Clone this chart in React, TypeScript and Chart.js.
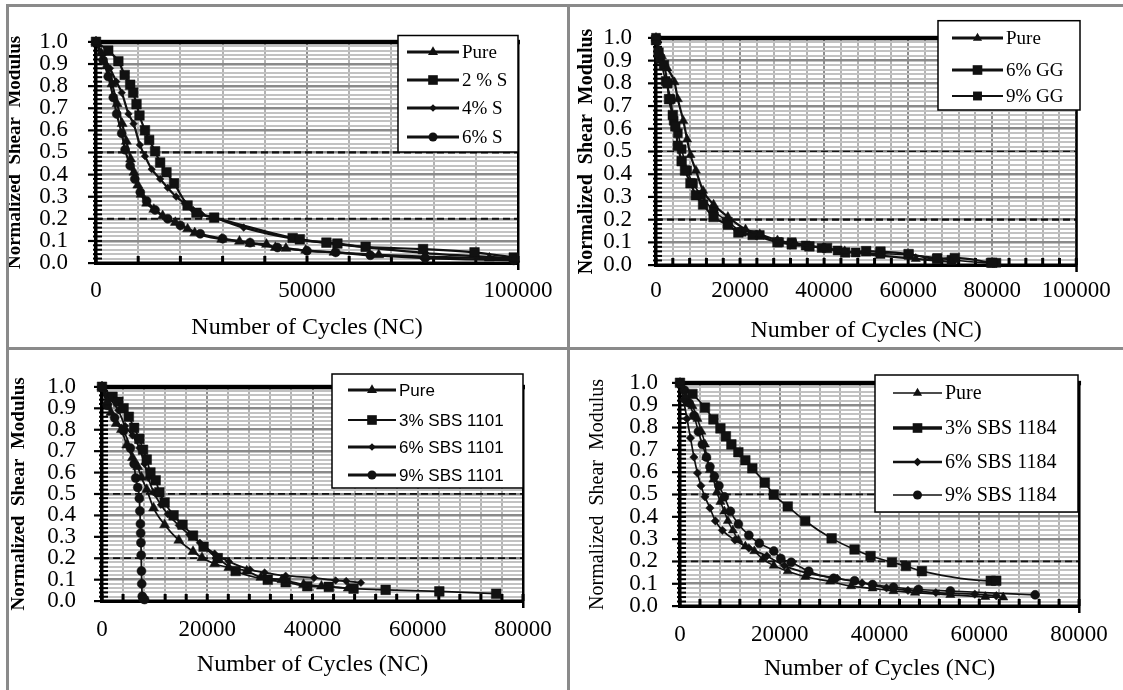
import React, { useEffect, useRef } from "react";
import { Chart, registerables } from "chart.js";

Chart.register(...registerables);

const SERIF = "'Liberation Serif', 'Times New Roman', serif";
const SANS = "'Liberation Sans', Arial, sans-serif";

// ---------------- tick labels / text ----------------
const Y_TICKS = [0, 0.1, 0.2, 0.3, 0.4, 0.5, 0.6, 0.7, 0.8, 0.9, 1.0];
const TL_X_TICKS = [0, 50000, 100000];
const TR_X_TICKS = [0, 20000, 40000, 60000, 80000, 100000];
const B_X_TICKS = [0, 20000, 40000, 60000, 80000];
const REF_LINES = [0.5, 0.2];
const X_TITLE = "Number of Cycles (NC)";
const Y_TITLE = "Normalized  Shear  Modulus";

const TL_LABELS = ["Pure", "2 % S", "4% S", "6% S"];
const TR_LABELS = ["Pure", "6% GG", "9% GG"];
const BL_LABELS = ["Pure", "3% SBS 1101", "6% SBS 1101", "9% SBS 1101"];
const BR_LABELS = ["Pure", "3% SBS 1184", "6% SBS 1184", "9% SBS 1184"];

// ---------------- top-left: sulfur ----------------
const tlPureX = [0, 1200, 2500, 3800, 5000, 6200, 7200, 8200, 9000, 9900, 10700, 12000, 13700, 15800, 18800, 21700, 23400, 29800, 34000, 36500, 40400, 42500, 45000, 49700, 56400, 67000, 78000, 93200, 99200];
const tlPureY = [1.0, 0.95, 0.89, 0.81, 0.72, 0.63, 0.55, 0.47, 0.41, 0.352, 0.31, 0.27, 0.242, 0.213, 0.183, 0.154, 0.136, 0.107, 0.098, 0.088, 0.084, 0.07, 0.066, 0.057, 0.048, 0.037, 0.029, 0.022, 0.019];
const tlS2X = [0, 2900, 5300, 6800, 8100, 8800, 9600, 10300, 11600, 12600, 14000, 15200, 16700, 18500, 21700, 23800, 28000, 46600, 48300, 54600, 57200, 63900, 77500, 89700, 99000];
const tlS2Y = [1.0, 0.96, 0.912, 0.85, 0.806, 0.77, 0.718, 0.667, 0.6, 0.556, 0.505, 0.454, 0.41, 0.36, 0.26, 0.227, 0.205, 0.113, 0.107, 0.092, 0.088, 0.073, 0.063, 0.048, 0.025];
const tlS4X = [0, 1500, 3300, 4800, 6100, 7700, 8900, 10400, 11600, 13200, 15200, 17000, 19000, 21000, 23000, 25000, 28000, 35000, 46700, 57000, 78000, 99000];
const tlS4Y = [1.0, 0.94, 0.88, 0.82, 0.77, 0.674, 0.63, 0.534, 0.483, 0.424, 0.38, 0.34, 0.3, 0.27, 0.24, 0.22, 0.205, 0.16, 0.11, 0.085, 0.045, 0.022];
const tlS6X = [0, 1700, 2900, 4100, 4900, 6100, 6900, 8100, 9200, 10500, 12000, 14000, 17000, 20000, 24700, 30000, 36500, 43000, 50000, 56800, 65000, 78000, 99000];
const tlS6Y = [1.0, 0.916, 0.843, 0.748, 0.674, 0.586, 0.512, 0.44, 0.38, 0.32, 0.28, 0.24, 0.2, 0.17, 0.132, 0.11, 0.092, 0.07, 0.055, 0.048, 0.035, 0.022, 0.012];

// ---------------- top-right: GG ----------------
const trPureX = [0, 1400, 2700, 4400, 5200, 6500, 7400, 8200, 9500, 11200, 13700, 17100, 21300, 24700, 28900, 33100, 39900, 44900, 53400, 61800, 70300];
const trPureY = [1.0, 0.92, 0.866, 0.805, 0.73, 0.635, 0.553, 0.484, 0.416, 0.327, 0.266, 0.212, 0.157, 0.136, 0.109, 0.094, 0.075, 0.061, 0.041, 0.027, 0.014];
const trG6X = [0, 600, 1900, 2700, 3100, 4000, 4600, 5200, 6100, 6900, 8200, 9500, 11200, 13700, 17100, 19600, 23000, 28900, 32300, 36500, 40700, 45000, 50000, 53400, 60100, 66900, 71100, 80000];
const trG6Y = [0.99, 0.935, 0.88, 0.8, 0.73, 0.66, 0.61, 0.525, 0.457, 0.416, 0.36, 0.307, 0.266, 0.211, 0.177, 0.143, 0.132, 0.1, 0.091, 0.082, 0.075, 0.055, 0.061, 0.059, 0.048, 0.027, 0.031, 0.01];
const trG9X = [0, 1000, 2300, 3500, 4200, 5200, 6100, 7400, 8800, 10700, 13700, 17100, 20400, 24700, 29300, 32300, 35600, 39400, 43200, 47500, 53400, 60100, 66900, 70300, 79600, 81000];
const trG9Y = [1.0, 0.907, 0.81, 0.73, 0.635, 0.58, 0.51, 0.416, 0.36, 0.307, 0.239, 0.191, 0.146, 0.132, 0.1, 0.1, 0.086, 0.075, 0.064, 0.055, 0.05, 0.045, 0.031, 0.023, 0.01, 0.01];

// ---------------- bottom-left: SBS 1101 ----------------
const blPureX = [0, 1000, 1700, 2700, 3700, 4700, 5800, 6800, 7500, 8500, 9800, 11900, 14600, 17300, 19000, 21400, 24100, 27500, 30200, 34200, 38300, 41700, 46800];
const blPureY = [1.0, 0.93, 0.88, 0.828, 0.8, 0.728, 0.669, 0.626, 0.577, 0.52, 0.434, 0.356, 0.283, 0.231, 0.202, 0.174, 0.156, 0.14, 0.11, 0.099, 0.077, 0.069, 0.06];
const blS3X = [0, 2000, 3100, 4100, 5100, 6100, 7100, 7800, 8500, 9200, 10200, 10900, 11900, 13600, 15300, 17300, 19300, 22000, 25400, 31500, 34900, 39000, 43100, 47800, 53900, 64100, 74900];
const blS3Y = [1.0, 0.953, 0.93, 0.9, 0.86, 0.808, 0.757, 0.706, 0.66, 0.6, 0.564, 0.508, 0.46, 0.4, 0.356, 0.305, 0.253, 0.2, 0.14, 0.099, 0.088, 0.069, 0.066, 0.058, 0.052, 0.045, 0.034];
const blS6X = [0, 1000, 3100, 4400, 5800, 7100, 8100, 8800, 9800, 11200, 12500, 14600, 16600, 18600, 21400, 24100, 28100, 30900, 34900, 40300, 44400, 46400, 49200];
const blS6Y = [1.0, 0.96, 0.89, 0.817, 0.773, 0.714, 0.64, 0.574, 0.508, 0.449, 0.405, 0.353, 0.309, 0.272, 0.221, 0.184, 0.147, 0.133, 0.118, 0.108, 0.096, 0.093, 0.085];
const blS9X = [0, 1000, 2400, 4100, 5400, 6100, 6400, 6800, 7100, 7200, 7300, 7350, 7400, 7450, 7500, 7550, 7650, 7800, 8100];
const blS9Y = [1.0, 0.913, 0.855, 0.795, 0.714, 0.64, 0.574, 0.53, 0.479, 0.42, 0.36, 0.317, 0.272, 0.214, 0.14, 0.08, 0.022, 0.01, 0.007];

// ---------------- bottom-right: SBS 1184 ----------------
const brPureX = [0, 1100, 2500, 3500, 4300, 5000, 5300, 6000, 6700, 7400, 8100, 8900, 9600, 10600, 11700, 13100, 14900, 16600, 18800, 21600, 25100, 30100, 34300, 38600, 42800, 47100, 54200, 61200, 64800];
const brPureY = [1.0, 0.939, 0.896, 0.839, 0.781, 0.724, 0.667, 0.61, 0.567, 0.51, 0.467, 0.424, 0.381, 0.339, 0.296, 0.267, 0.246, 0.21, 0.181, 0.156, 0.131, 0.11, 0.089, 0.079, 0.067, 0.06, 0.05, 0.041, 0.039];
const brS3X = [0, 2500, 5000, 6700, 8100, 9200, 10300, 11700, 13100, 14500, 17000, 18800, 21600, 25100, 30400, 35000, 38200, 42500, 45300, 48500, 62300, 63400];
const brS3Y = [1.0, 0.95, 0.889, 0.836, 0.796, 0.76, 0.724, 0.689, 0.653, 0.617, 0.553, 0.499, 0.446, 0.381, 0.303, 0.253, 0.224, 0.196, 0.179, 0.156, 0.113, 0.113];
const brS6X = [0, 700, 1400, 2100, 2800, 3500, 4200, 5000, 6000, 7100, 8500, 11000, 13800, 17400, 20900, 25800, 31500, 36500, 41400, 45700, 51300, 59100, 63400];
const brS6Y = [1.0, 0.924, 0.839, 0.753, 0.667, 0.596, 0.539, 0.489, 0.439, 0.381, 0.339, 0.296, 0.26, 0.224, 0.181, 0.146, 0.124, 0.103, 0.081, 0.07, 0.06, 0.053, 0.046];
const brS9X = [0, 900, 1800, 2800, 3700, 4500, 5300, 6000, 6900, 7800, 8900, 10100, 11700, 13800, 15900, 18800, 20200, 22300, 25800, 30800, 35000, 38600, 42800, 47800, 54200, 71200];
const brS9Y = [1.0, 0.967, 0.91, 0.853, 0.781, 0.724, 0.667, 0.624, 0.581, 0.539, 0.489, 0.424, 0.367, 0.317, 0.281, 0.246, 0.213, 0.196, 0.156, 0.124, 0.113, 0.096, 0.084, 0.074, 0.067, 0.05];

// ---------------- types ----------------
type Series = {
  label: string;
  xs: number[];
  ys: number[];
  style: string;
  radius: number;
  lineWidth: number;
  legendWidth: number;
};

type LegendDef = {
  l: number; t: number; r: number; b: number;
  rows: number[]; lx0: number; lx1: number; tx: number;
  family: string; size: number;
};

type PanelDef = {
  box: { left: number; top: number; width: number; height: number };
  area: { l: number; t: number; r: number; b: number };
  xMax: number;
  xMinor: number;
  xLabels: number[];
  xTickPad: number;
  xTitlePadB: number;
  yTitlePadT: number;
  yTitleBold: boolean;
  yTitleSize: number;
  yTickPad: number;
  refWidths: number[];
  legend: LegendDef;
  series: Series[];
};

const isMult = (v: number, step: number) => Math.abs(v / step - Math.round(v / step)) < 1e-6;
const inList = (v: number, list: number[]) => list.some((t) => Math.abs(t - v) < 1e-6);

function markerPath(ctx: CanvasRenderingContext2D, style: string, x: number, y: number, r: number) {
  ctx.beginPath();
  if (style === "triangle") {
    ctx.moveTo(x, y - r);
    ctx.lineTo(x + r * 0.866, y + r * 0.5);
    ctx.lineTo(x - r * 0.866, y + r * 0.5);
    ctx.closePath();
  } else if (style === "rect") {
    const s = r * Math.SQRT1_2;
    ctx.rect(x - s, y - s, 2 * s, 2 * s);
  } else if (style === "rectRot") {
    ctx.moveTo(x, y - r);
    ctx.lineTo(x + r, y);
    ctx.lineTo(x, y + r);
    ctx.lineTo(x - r, y);
    ctx.closePath();
  } else {
    ctx.arc(x, y, r, 0, Math.PI * 2);
  }
  ctx.fill();
}

function Panel({ def }: { def: PanelDef }) {
  const ref = useRef<HTMLCanvasElement | null>(null);

  useEffect(() => {
    const canvas = ref.current;
    if (!canvas) return;
    const { box, area, legend } = def;
    const aL = area.l - box.left;
    const aT = area.t - box.top;
    const aR = area.r - box.left;
    const aB = area.b - box.top;

    const decor = {
      id: "decor",
      beforeDatasetsDraw(chart: any) {
        const ctx: CanvasRenderingContext2D = chart.ctx;
        const { left: l, right: r, top: t, bottom: b } = chart.chartArea;
        const xs = chart.scales.x;
        const ys = chart.scales.y;
        ctx.save();
        ctx.strokeStyle = "#111";
        ctx.setLineDash([7, 4]);
        REF_LINES.forEach((v, i) => {
          const py = ys.getPixelForValue(v);
          ctx.lineWidth = def.refWidths[i];
          ctx.beginPath();
          ctx.moveTo(l, py);
          ctx.lineTo(r, py);
          ctx.stroke();
        });
        ctx.setLineDash([]);
        ctx.fillStyle = "#000";
        for (let k = 0; k <= 50; k++) {
          const py = ys.getPixelForValue(k * 0.02);
          if (k % 5 === 0) ctx.fillRect(l - 8, py - 1, 14, 2.2);
          else ctx.fillRect(l - 3, py - 1, 9, 2);
        }
        for (let v = 0; v <= def.xMax + 1; v += def.xMinor) {
          const px = xs.getPixelForValue(v);
          ctx.fillRect(px - 1.5, b - 7, 3, 7);
        }
        ctx.fillRect(l - 2, t - 2, r - l + 4, 4.5);
        ctx.fillRect(r - 1, t, 2.5, b - t + 7);
        ctx.fillRect(l - 2, t, 3.5, b - t + 2);
        ctx.fillRect(l - 2, b - 1.5, r - l + 3, 3.5);
        ctx.restore();
      },
      afterDatasetsDraw(chart: any) {
        const ctx: CanvasRenderingContext2D = chart.ctx;
        const ox = box.left;
        const oy = box.top;
        ctx.save();
        ctx.fillStyle = "#fff";
        ctx.fillRect(legend.l - ox, legend.t - oy, legend.r - legend.l, legend.b - legend.t);
        ctx.strokeStyle = "#000";
        ctx.lineWidth = 1.5;
        ctx.strokeRect(legend.l - ox, legend.t - oy, legend.r - legend.l, legend.b - legend.t);
        ctx.font = `${legend.size}px ${legend.family}`;
        ctx.textBaseline = "middle";
        ctx.textAlign = "left";
        def.series.forEach((s, i) => {
          const y = legend.rows[i] - oy;
          ctx.strokeStyle = "#111";
          ctx.lineWidth = s.legendWidth;
          ctx.beginPath();
          ctx.moveTo(legend.lx0 - ox, y);
          ctx.lineTo(legend.lx1 - ox, y);
          ctx.stroke();
          ctx.fillStyle = "#111";
          markerPath(ctx, s.style, (legend.lx0 + legend.lx1) / 2 - ox, y, s.radius);
          ctx.fillStyle = "#000";
          ctx.fillText(s.label, legend.tx - ox, y + 1);
        });
        ctx.restore();
      },
    };

    const chart = new Chart(canvas, {
      type: "scatter",
      data: {
        datasets: def.series.map((s) => ({
          label: s.label,
          data: s.xs.map((x, i) => ({ x, y: s.ys[i] })),
          showLine: true,
          borderColor: "#111",
          backgroundColor: "#111",
          borderWidth: s.lineWidth,
          pointStyle: s.style as any,
          pointRadius: s.radius,
          pointBackgroundColor: "#111",
          pointBorderColor: "#111",
          pointBorderWidth: 0.5,
          cubicInterpolationMode: "monotone",
          clip: 10,
        })),
      },
      options: {
        animation: false,
        responsive: false,
        maintainAspectRatio: false,
        events: [],
        layout: { padding: { left: 0, top: aT, right: box.width - aR, bottom: 0 } },
        plugins: { legend: { display: false }, tooltip: { enabled: false } },
        scales: {
          x: {
            type: "linear",
            position: "bottom",
            min: 0,
            max: def.xMax,
            afterFit: (s: any) => {
              s.height = box.height - aB;
            },
            border: { display: false },
            grid: {
              drawTicks: false,
              color: (c: any) => (inList(c.tick.value, def.xLabels) ? "#8e8e8e" : "#b4b4b4"),
              lineWidth: 2,
            },
            ticks: {
              stepSize: def.xMinor,
              maxTicksLimit: 1000,
              autoSkip: false,
              maxRotation: 0,
              padding: def.xTickPad,
              color: "#000",
              font: { family: SERIF, size: 23 },
              callback: (v: any) => (inList(Number(v), def.xLabels) ? String(Math.round(Number(v))) : ""),
            },
            title: {
              display: true,
              text: X_TITLE,
              color: "#000",
              font: { family: SERIF, size: 24 },
              padding: { top: 0, bottom: def.xTitlePadB },
            },
          },
          y: {
            type: "linear",
            position: "left",
            min: 0,
            max: 1,
            afterFit: (s: any) => {
              s.width = aL;
            },
            border: { display: false },
            grid: {
              drawTicks: false,
              color: (c: any) => (isMult(c.tick.value, 0.1) ? "#8a8a8a" : "#c2c2c2"),
              lineWidth: (c: any) => (isMult(c.tick.value, 0.1) ? 2.5 : 2),
            },
            ticks: {
              stepSize: 0.02,
              maxTicksLimit: 1000,
              autoSkip: false,
              padding: def.yTickPad,
              color: "#000",
              font: { family: SERIF, size: 23 },
              callback: (v: any) => (inList(Number(v), Y_TICKS) ? Number(v).toFixed(1) : ""),
            },
            title: {
              display: true,
              text: Y_TITLE,
              color: "#000",
              font: { family: SERIF, size: def.yTitleSize, weight: def.yTitleBold ? "bold" : "normal" },
              padding: { top: def.yTitlePadT, bottom: 0 },
            },
          },
        },
      } as any,
      plugins: [decor],
    });
    return () => chart.destroy();
  }, [def]);

  return (
    <canvas
      ref={ref}
      width={def.box.width}
      height={def.box.height}
      style={{ position: "absolute", left: def.box.left, top: def.box.top, width: def.box.width, height: def.box.height }}
    />
  );
}

const mk = (label: string, xs: number[], ys: number[], style: string, radius: number, lineWidth: number, legendWidth: number): Series => ({
  label, xs, ys, style, radius, lineWidth, legendWidth,
});

const PANELS: PanelDef[] = [
  {
    box: { left: 0, top: 0, width: 567, height: 347 },
    area: { l: 96, t: 35.5, r: 518, b: 263 },
    xMax: 100000, xMinor: 10000, xLabels: TL_X_TICKS,
    xTickPad: 14.2, xTitlePadB: 4.5, yTitlePadT: 4, yTitleBold: true, yTitleSize: 19, yTickPad: 28,
    refWidths: [2.2, 2.2],
    legend: { l: 398, t: 35.5, r: 518, b: 152, rows: [52, 80, 108, 137], lx0: 407, lx1: 459, tx: 462, family: SERIF, size: 19 },
    series: [
      mk(TL_LABELS[0], tlPureX, tlPureY, "triangle", 5.8, 2.2, 3),
      mk(TL_LABELS[1], tlS2X, tlS2Y, "rect", 6.8, 2.2, 3),
      mk(TL_LABELS[2], tlS4X, tlS4Y, "rectRot", 3.8, 2.2, 3),
      mk(TL_LABELS[3], tlS6X, tlS6Y, "circle", 4.5, 2.2, 3),
    ],
  },
  {
    box: { left: 567, top: 0, width: 556, height: 347 },
    area: { l: 656, t: 20.7, r: 1080, b: 265 },
    xMax: 100000, xMinor: 4000, xLabels: TR_X_TICKS,
    xTickPad: 12.2, xTitlePadB: 1.5, yTitlePadT: 8, yTitleBold: true, yTitleSize: 20, yTickPad: 24,
    refWidths: [1.3, 2.2],
    legend: { l: 938, t: 20.7, r: 1080, b: 110, rows: [38, 70, 96], lx0: 952, lx1: 1003, tx: 1006, family: SERIF, size: 19 },
    series: [
      mk(TR_LABELS[0], trPureX, trPureY, "triangle", 5.3, 2.2, 3),
      mk(TR_LABELS[1], trG6X, trG6Y, "rect", 6.8, 2.2, 3),
      mk(TR_LABELS[2], trG9X, trG9Y, "rect", 6.3, 1.6, 2),
    ],
  },
  {
    box: { left: 0, top: 347, width: 567, height: 343 },
    area: { l: 102, t: 374, r: 523, b: 601 },
    xMax: 80000, xMinor: 4000, xLabels: B_X_TICKS,
    xTickPad: 15.2, xTitlePadB: 10.5, yTitlePadT: 8, yTitleBold: true, yTitleSize: 19, yTickPad: 26,
    refWidths: [1.6, 1.6],
    legend: { l: 332, t: 374, r: 523, b: 488, rows: [390, 420, 447, 475], lx0: 348, lx1: 396, tx: 399, family: SANS, size: 17 },
    series: [
      mk(BL_LABELS[0], blPureX, blPureY, "triangle", 5.8, 1.8, 3),
      mk(BL_LABELS[1], blS3X, blS3Y, "rect", 6.8, 1.8, 2),
      mk(BL_LABELS[2], blS6X, blS6Y, "rectRot", 3.8, 1.8, 3),
      mk(BL_LABELS[3], blS9X, blS9Y, "circle", 4.5, 1.8, 3),
    ],
  },
  {
    box: { left: 567, top: 347, width: 556, height: 343 },
    area: { l: 680, t: 372, r: 1085, b: 606 },
    xMax: 80000, xMinor: 4000, xLabels: B_X_TICKS,
    xTickPad: 15.2, xTitlePadB: 6.5, yTitlePadT: 19, yTitleBold: false, yTitleSize: 20, yTickPad: 22,
    refWidths: [1.6, 1.6],
    legend: { l: 875, t: 375, r: 1078, b: 512, rows: [393, 428, 462, 495], lx0: 893, lx1: 942, tx: 945, family: SERIF, size: 20 },
    series: [
      mk(BR_LABELS[0], brPureX, brPureY, "triangle", 5.3, 1.6, 1.5),
      mk(BR_LABELS[1], brS3X, brS3Y, "rect", 6.8, 1.7, 3.5),
      mk(BR_LABELS[2], brS6X, brS6Y, "rectRot", 4.2, 1.7, 2.5),
      mk(BR_LABELS[3], brS9X, brS9Y, "circle", 4.5, 1.6, 1.5),
    ],
  },
];

const lineStyle = (left: number, top: number, width: number, height: number): React.CSSProperties => ({
  position: "absolute", left, top, width, height, background: "#8a8a8a",
});

export default function App() {
  return (
    <div style={{ position: "absolute", left: 0, top: 0, width: 1123, height: 690, background: "#fff", overflow: "hidden" }}>
      {PANELS.map((p, i) => (
        <Panel key={i} def={p} />
      ))}
      <div style={lineStyle(6, 4, 1117, 3)} />
      <div style={lineStyle(6, 4, 3, 686)} />
      <div style={lineStyle(567, 4, 3, 686)} />
      <div style={lineStyle(6, 347, 1117, 3)} />
    </div>
  );
}
